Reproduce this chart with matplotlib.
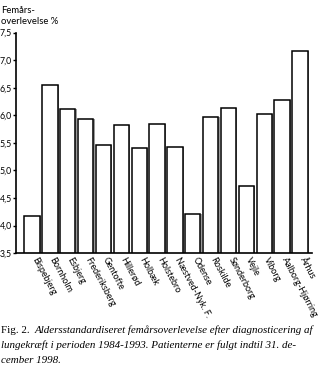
import matplotlib.pyplot as plt
import numpy as np

hospitals = ['Bispebjerg', 'Bornholm', 'Esbjerg', 'Frederiksberg', 'Gentofte',
             'Hillerød', 'Holbæk', 'Holstebro', 'Næstved-Nyk. F.', 'Odense',
             'Roskilde', 'Sønderborg', 'Vejle', 'Viborg', 'Aalborg-Hjørring', 'Århus']
survival = [4.18, 6.54, 6.12, 5.94, 5.46,
            5.83, 5.40, 5.84, 5.43, 4.20,
            5.96, 6.13, 4.71, 6.03, 6.27, 7.17]
yticks = [3.5, 4.0, 4.5, 5.0, 5.5, 6.0, 6.5, 7.0, 7.5]
ytick_labels = ['3,5', '4,0', '4,5', '5,0', '5,5', '6,0', '6,5', '7,0', '7,5']

sans = ['Lato', 'DejaVu Sans']
serif = 'Liberation Serif'
fig = plt.figure(figsize=(3.23, 3.70), dpi=100)
ax = fig.add_axes([0.048, 0.316, 0.918, 0.596])

x = np.arange(len(hospitals))
# grey shadow on the right edge of each bar
ax.bar(x + 0.07, survival, width=0.86, color='#9a9a9a', edgecolor='none', zorder=1)
ax.bar(x, survival, width=0.86, color='white', edgecolor='black', linewidth=1.1, zorder=2)

ax.set_ylim(3.5, 7.5)
ax.set_xlim(-0.92, 15.67)
ax.set_yticks(yticks)
ax.set_yticklabels(ytick_labels, fontsize=6.3, family=sans)
ax.tick_params(axis='y', length=2, width=1, pad=0.5)
ax.set_xticks([])
for xi, name in zip(x, hospitals):
    ax.text(xi + 0.1, 3.42, name, rotation=-62, rotation_mode='anchor',
            ha='left', va='center', fontsize=6.5, family=sans)

for s in ['top', 'right']:
    ax.spines[s].set_visible(False)
ax.spines['left'].set_linewidth(1.2)
ax.spines['bottom'].set_linewidth(1.2)

fig.text(0.003, 0.985, 'Femårs-\noverlevelse %', fontsize=6.8, family=sans,
         ha='left', va='top', linespacing=1.3)

# caption: "Fig. 2." upright, rest italic
fs = 7.9
t = fig.text(0.003, 0.108, 'Fig. 2. ', fontsize=fs, family=serif, ha='left', va='center')
fig.canvas.draw()
bb = t.get_window_extent().transformed(fig.transFigure.inverted())
fig.text(bb.x1 + 0.008, 0.108,
         'Aldersstandardiseret femårsoverlevelse efter diagnosticering af',
         fontsize=fs, family=serif, style='italic', ha='left', va='center')
fig.text(0.003, 0.066,
         'lungekræft i perioden 1984-1993. Patienterne er fulgt indtil 31. de-',
         fontsize=fs, family=serif, style='italic', ha='left', va='center')
fig.text(0.003, 0.025, 'cember 1998.',
         fontsize=fs, family=serif, style='italic', ha='left', va='center')

fig.savefig('out.png', dpi=100)
